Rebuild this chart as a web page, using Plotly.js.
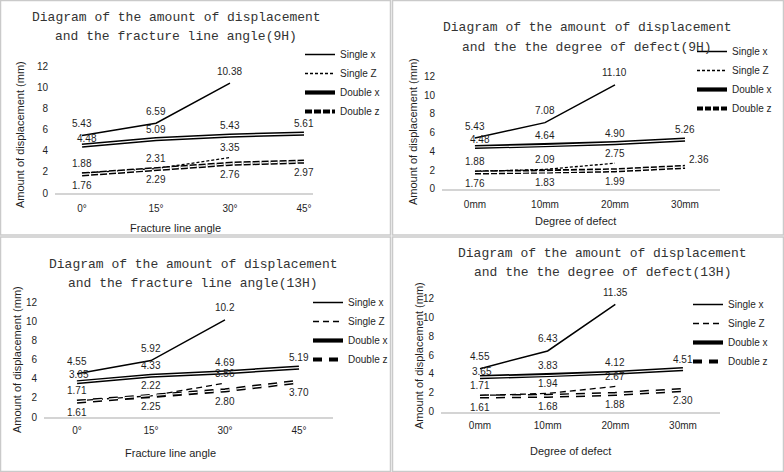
<!DOCTYPE html>
<html><head><meta charset="utf-8">
<script src="https://cdn.plot.ly/plotly-3.0.1.min.js"></script>
<style>html,body{margin:0;padding:0;background:#fff}#chart{width:784px;height:472px}</style>
</head><body><div id="chart"></div>
<script>
// ---------- DATA ----------
const angleCats = ['0°', '15°', '30°', '45°'];
const defectCats = ['0mm', '10mm', '20mm', '30mm'];
const seriesNames = ['Single x', 'Single Z', 'Double x', 'Double z'];

// 9H, fracture line angle
const h9AngleSingleX = [5.43, 6.59, 10.38, null];
const h9AngleSingleZ = [1.88, 2.31, 3.35, null];
const h9AngleDoubleX = [4.48, 5.09, 5.43, 5.61];
const h9AngleDoubleZ = [1.76, 2.29, 2.76, 2.97];
// 9H, degree of defect
const h9DefectSingleX = [5.43, 7.08, 11.10, null];
const h9DefectSingleZ = [1.88, 2.09, 2.75, null];
const h9DefectDoubleX = [4.48, 4.64, 4.90, 5.26];
const h9DefectDoubleZ = [1.76, 1.83, 1.99, 2.36];
// 13H, fracture line angle
const h13AngleSingleX = [4.55, 5.92, 10.2, null];
const h13AngleSingleXLabels = ['4.55', '5.92', '10.2'];
const h13AngleSingleZ = [1.71, 2.22, 3.56, null];
const h13AngleDoubleX = [3.65, 4.33, 4.69, 5.19];
const h13AngleDoubleZ = [1.61, 2.25, 2.80, 3.70];
// 13H, degree of defect
const h13DefectSingleX = [4.55, 6.43, 11.35, null];
const h13DefectSingleZ = [1.71, 1.94, 2.67, null];
const h13DefectDoubleX = [3.65, 3.83, 4.12, 4.51];
const h13DefectDoubleZ = [1.61, 1.68, 1.88, 2.30];

const titleLine1 = 'Diagram of the amount of displacement';
const titleLine2 = ['and the fracture line angle(9H)', 'and the the degree of defect(9H)',
                    'and the fracture line angle(13H)', 'and the the degree of defect(13H)'];
const xTitles = ['Fracture line angle', 'Degree of defect', 'Fracture line angle', 'Degree of defect'];
const yTitle = 'Amount of displacement (mm)';
const yTicks = [0, 2, 4, 6, 8, 10, 12];

// ---------- LAYOUT / STYLE ----------
const W = 784, H = 472;
const px = x => x / W;
const py = y => 1 - y / H;
const fmt = v => v.toFixed(2);

const panels = [
  { cats: angleCats, series: [h9AngleSingleX, h9AngleSingleZ, h9AngleDoubleX, h9AngleDoubleZ],
    labels: [null, null, null, null],
    ax: [55, 313], ay0: 193, pxu: 10.58, xr: [-0.365, 3.122], xstand: 5,
    t1: [176, 17], t2: [176, 36], yt: [20, 135], xt: [175, 228], leg: [342, 52],
    zdash: '3px,2px', dzdash: '7px,2px',
    shifts: [[0,-12],[0,-10],[0,-10],[0,11]], special: {'2-0': [5, -7]} },
  { cats: defectCats, series: [h9DefectSingleX, h9DefectSingleZ, h9DefectDoubleX, h9DefectDoubleZ],
    labels: [null, null, null, null],
    ax: [442, 720], ay0: 189, pxu: 9.375, xr: [-0.471, 3.5], xstand: 5,
    t1: [587, 28], t2: [587, 48], yt: [413, 132], xt: [575, 221], leg: [734, 49],
    zdash: '3px,2px', dzdash: '6px,2px',
    shifts: [[0,-12],[0,-10],[0,-10],[0,11]], special: {'2-0': [5, -7], '3-3': [14, -7]} },
  { cats: angleCats, series: [h13AngleSingleX, h13AngleSingleZ, h13AngleDoubleX, h13AngleDoubleZ],
    labels: [h13AngleSingleXLabels, null, null, null],
    ax: [44, 333], ay0: 417, pxu: 9.53, xr: [-0.446, 3.46], xstand: 3,
    t1: [193, 264], t2: [193, 283], yt: [17, 360], xt: [170, 453], leg: [350, 300],
    zdash: '6px,4px', dzdash: '9px,7px',
    shifts: [[0,-12],[0,-10],[0,-10],[0,11]], special: {'2-0': [2, -8]} },
  { cats: defectCats, series: [h13DefectSingleX, h13DefectSingleZ, h13DefectDoubleX, h13DefectDoubleZ],
    labels: [null, null, null, null],
    ax: [441, 720], ay0: 411.7, pxu: 9.45, xr: [-0.576, 3.547], xstand: 3,
    t1: [602, 253], t2: [602, 272], yt: [419, 356], xt: [570, 451], leg: [730, 302],
    zdash: '6px,4px', dzdash: '9px,7px',
    shifts: [[0,-12],[0,-10],[0,-10],[0,11]], special: {'2-0': [2, -6]} }
];

const txt = '#1f1f1f';
const sans = 'Liberation Sans, Arial, sans-serif';
const mono = 'Liberation Mono, Courier New, monospace';

const traces = [];
const annotations = [];
const shapes = [];
const layout = {
  width: W, height: H, margin: {l: 0, r: 0, t: 0, b: 0},
  paper_bgcolor: '#ffffff', plot_bgcolor: 'rgba(0,0,0,0)',
  font: {family: sans, size: 10, color: txt},
  showlegend: true, annotations, shapes
};

panels.forEach((p, k) => {
  const n = k === 0 ? '' : String(k + 1);
  const xa = 'x' + n, ya = 'y' + n;
  const legName = k === 0 ? 'legend' : 'legend' + (k + 1);
  const yTop = p.ay0 - 13 * p.pxu;
  layout['xaxis' + n] = {
    domain: [px(p.ax[0]), px(p.ax[1])], anchor: ya, type: 'category',
    range: p.xr, showgrid: false, zeroline: false, showline: true,
    linecolor: '#d4d4d4', linewidth: 2, ticks: '', ticklabelstandoff: p.xstand,
    tickfont: {size: 10, color: txt, family: sans}, fixedrange: true
  };
  layout['yaxis' + n] = {
    domain: [py(p.ay0), py(yTop)], anchor: xa, range: [0, 13],
    tickvals: yTicks, showgrid: false, zeroline: false, showline: false,
    ticks: '', ticklabelstandoff: 6, tickfont: {size: 10, color: txt, family: sans}, fixedrange: true
  };
  layout[legName] = {
    x: px(p.leg[0] - 42), y: py(p.leg[1] - 12), xanchor: 'left', yanchor: 'top',
    bgcolor: 'rgba(0,0,0,0)', borderwidth: 0, font: {size: 10, color: txt, family: sans},
    itemwidth: 30, tracegroupgap: 0
  };

  const [sx, sz, dx, dz] = p.series;
  const base = {x: p.cats, xaxis: xa, yaxis: ya, mode: 'lines', legend: legName, hoverinfo: 'skip'};
  traces.push(Object.assign({}, base, {y: sx, name: seriesNames[0], line: {color: '#000', width: 1.5}}));
  traces.push(Object.assign({}, base, {y: sz, name: seriesNames[1], line: {color: '#000', width: 1.3, dash: p.zdash}}));
  traces.push(Object.assign({}, base, {y: dx, name: seriesNames[2], line: {color: '#000', width: 4.2}}));
  traces.push(Object.assign({}, base, {y: dx, name: seriesNames[2], showlegend: false, line: {color: '#fff', width: 1.2}}));
  traces.push(Object.assign({}, base, {y: dz, name: seriesNames[3], line: {color: '#000', width: 4.2, dash: p.dzdash}}));
  traces.push(Object.assign({}, base, {y: dz, name: seriesNames[3], showlegend: false, line: {color: '#fff', width: 1.2, dash: p.dzdash}}));

  // data labels
  p.series.forEach((arr, s) => {
    arr.forEach((v, i) => {
      if (v === null) return;
      const sp = p.special[s + '-' + i] || p.shifts[s];
      const lbl = p.labels[s] ? p.labels[s][i] : fmt(v);
      annotations.push({xref: xa, yref: ya, x: i, y: v, text: lbl, showarrow: false,
        xshift: sp[0], yshift: -sp[1], font: {size: 10, color: txt, family: sans}});
    });
  });

  // titles
  annotations.push({xref: 'paper', yref: 'paper', x: px(p.t1[0]), y: py(p.t1[1]), text: titleLine1,
    showarrow: false, xanchor: 'center', yanchor: 'middle', font: {family: mono, size: 13, color: '#333'}});
  annotations.push({xref: 'paper', yref: 'paper', x: px(p.t2[0]), y: py(p.t2[1]), text: titleLine2[k],
    showarrow: false, xanchor: 'center', yanchor: 'middle', font: {family: mono, size: 13, color: '#333'}});
  annotations.push({xref: 'paper', yref: 'paper', x: px(p.yt[0]), y: py(p.yt[1]), text: yTitle, textangle: -90,
    showarrow: false, xanchor: 'center', yanchor: 'middle', font: {family: sans, size: 11, color: txt}});
  annotations.push({xref: 'paper', yref: 'paper', x: px(p.xt[0]), y: py(p.xt[1]), text: xTitles[k],
    showarrow: false, xanchor: 'center', yanchor: 'middle', font: {family: sans, size: 11, color: txt}});
});

// panel borders
[[0.5, 0.5, 390.5, 235], [392.5, 0.5, 783.5, 235], [0.5, 237, 390.5, 471.5], [392.5, 237, 783.5, 471.5]].forEach(r => {
  shapes.push({type: 'rect', xref: 'paper', yref: 'paper', x0: px(r[0]), x1: px(r[2]), y0: py(r[3]), y1: py(r[1]),
    line: {color: '#cacaca', width: 1.5}, layer: 'below'});
});

Plotly.newPlot('chart', traces, layout, {staticPlot: true, displayModeBar: false});
</script>
</body></html>
